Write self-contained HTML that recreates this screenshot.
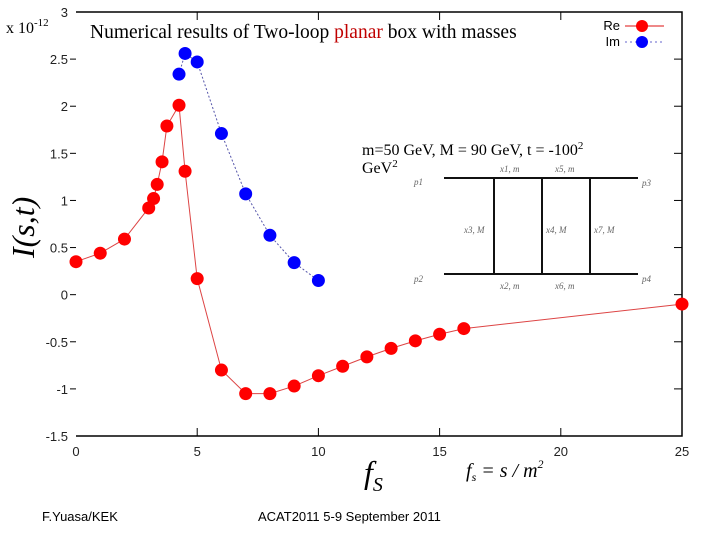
<!DOCTYPE html>
<html><head><meta charset="utf-8"><style>
body{margin:0;background:#fff;width:720px;height:540px;overflow:hidden;font-family:"Liberation Sans",sans-serif}
</style></head><body>
<svg id="chart" width="720" height="540" xmlns="http://www.w3.org/2000/svg">
<g id="frame"></g>
<g id="ticks" font-size="13" fill="#222"></g>
<text x="6" y="33" font-family="Liberation Serif" font-size="16">x 10<tspan dy="-7" font-size="11">-12</tspan></text>
<text x="90" y="38" font-family="Liberation Serif" font-size="19.5">Numerical results of Two-loop <tspan fill="#c00000">planar</tspan> box with masses</text>
<text transform="translate(34,258) rotate(-90)" font-family="Liberation Serif" font-style="italic" font-size="32">I(s,t)</text>
<text x="364" y="483" font-family="Liberation Serif" font-style="italic" font-size="32">f<tspan font-size="20" dy="8">S</tspan></text>
<text x="466" y="477" font-family="Liberation Serif" font-style="italic" font-size="20">f<tspan font-size="12" dy="4">s</tspan><tspan dy="-4"> = s / m</tspan><tspan font-size="12" dy="-9">2</tspan></text>
<text x="362" y="155" font-family="Liberation Serif" font-size="16">m=50 GeV,  M = 90 GeV,  t = -100<tspan dy="-6" font-size="11">2</tspan></text>
<text x="362" y="173" font-family="Liberation Serif" font-size="16">GeV<tspan dy="-6" font-size="11">2</tspan></text>
<g stroke="#111" stroke-width="2" fill="none">
<line x1="444" y1="178" x2="638" y2="178"/><line x1="444" y1="274" x2="638" y2="274"/>
<line x1="494" y1="178" x2="494" y2="274"/><line x1="542" y1="178" x2="542" y2="274"/><line x1="590" y1="178" x2="590" y2="274"/>
</g>
<g font-family="Liberation Serif" font-style="italic" font-size="9" fill="#666">
<text x="414" y="185">p1</text><text x="414" y="282">p2</text><text x="642" y="186">p3</text><text x="642" y="282">p4</text>
<text x="500" y="172">x1, m</text><text x="555" y="172">x5, m</text><text x="464" y="233">x3, M</text><text x="546" y="233">x4, M</text><text x="594" y="233">x7, M</text>
<text x="500" y="289">x2, m</text><text x="555" y="289">x6, m</text>
</g>
<g id="series"></g>
<g font-size="13">
<text x="620" y="30" text-anchor="end">Re</text><text x="620" y="46" text-anchor="end">Im</text>
<line x1="625" y1="26" x2="664" y2="26" stroke="#e88" stroke-width="2"/><circle cx="642" cy="26" r="6" fill="#f00"/>
<line x1="625" y1="42" x2="664" y2="42" stroke="#66c" stroke-dasharray="2,3"/><circle cx="642" cy="42" r="6" fill="#00f"/>
</g>
<text x="42" y="521" font-size="13">F.Yuasa/KEK</text>
<text x="258" y="521" font-size="13">ACAT2011 5-9 September  2011</text>
</svg>
<script>
const reX=[0,1,2,3,3.2,3.35,3.55,3.75,4.25,4.5,5,6,7,8,9,10,11,12,13,14,15,16,25];
const reY=[0.35,0.44,0.59,0.92,1.02,1.17,1.41,1.79,2.01,1.31,0.17,-0.80,-1.05,-1.05,-0.97,-0.86,-0.76,-0.66,-0.57,-0.49,-0.42,-0.36,-0.10];
const imX=[4.25,4.5,5,6,7,8,9,10];
const imY=[2.34,2.56,2.47,1.71,1.07,0.63,0.34,0.15];
const xTicks=[0,5,10,15,20,25];
const yTicks=[-1.5,-1,-0.5,0,0.5,1,1.5,2,2.5,3];
const X0=76,X1=682,Y0=436,Y1=12;
const sx=v=>X0+(v-0)/25*(X1-X0);
const sy=v=>Y0-(v+1.5)/4.5*(Y0-Y1);
const NS="http://www.w3.org/2000/svg";
function mk(tag,attrs,parent){const e=document.createElementNS(NS,tag);for(const k in attrs)e.setAttribute(k,attrs[k]);parent.appendChild(e);return e;}
const fr=document.getElementById('frame');
mk('polyline',{points:`${X0},${Y1} ${X1},${Y1} ${X1},${Y0} ${X0},${Y0}`,fill:'none',stroke:'#000','stroke-width':1.5},fr);
const tk=document.getElementById('ticks');
xTicks.forEach(v=>{const t=mk('text',{x:sx(v),y:Y0+20,'text-anchor':'middle'},tk);t.textContent=v;


if(v>0&&v<25){mk('line',{x1:sx(v),y1:Y1,x2:sx(v),y2:Y1+8,stroke:'#000'},tk);mk('line',{x1:sx(v),y1:Y0,x2:sx(v),y2:Y0-8,stroke:'#000'},tk);}});
yTicks.forEach(v=>{const t=mk('text',{x:X0-8,y:sy(v)+5,'text-anchor':'end'},tk);t.textContent=v;


if(v>-1.5&&v<3){mk('line',{x1:X0-6,y1:sy(v),x2:X0,y2:sy(v),stroke:'#000'},tk);mk('line',{x1:X1,y1:sy(v),x2:X1-8,y2:sy(v),stroke:'#000'},tk);}});
const sr=document.getElementById('series');
const rl=mk('polyline',{points:reX.map((x,i)=>sx(x)+','+sy(reY[i])).join(' '),fill:'none',stroke:'#d44','stroke-width':1},sr);


const il=mk('polyline',{points:imX.map((x,i)=>sx(x)+','+sy(imY[i])).join(' '),fill:'none',stroke:'#55a','stroke-width':1,'stroke-dasharray':'2,2'},sr);


reX.forEach((x,i)=>{const c=mk('circle',{cx:sx(x),cy:sy(reY[i]),r:6.5,fill:'#f00'},sr);

});
imX.forEach((x,i)=>{const c=mk('circle',{cx:sx(x),cy:sy(imY[i]),r:6.5,fill:'#00f'},sr);

});
</script>
</body></html>
